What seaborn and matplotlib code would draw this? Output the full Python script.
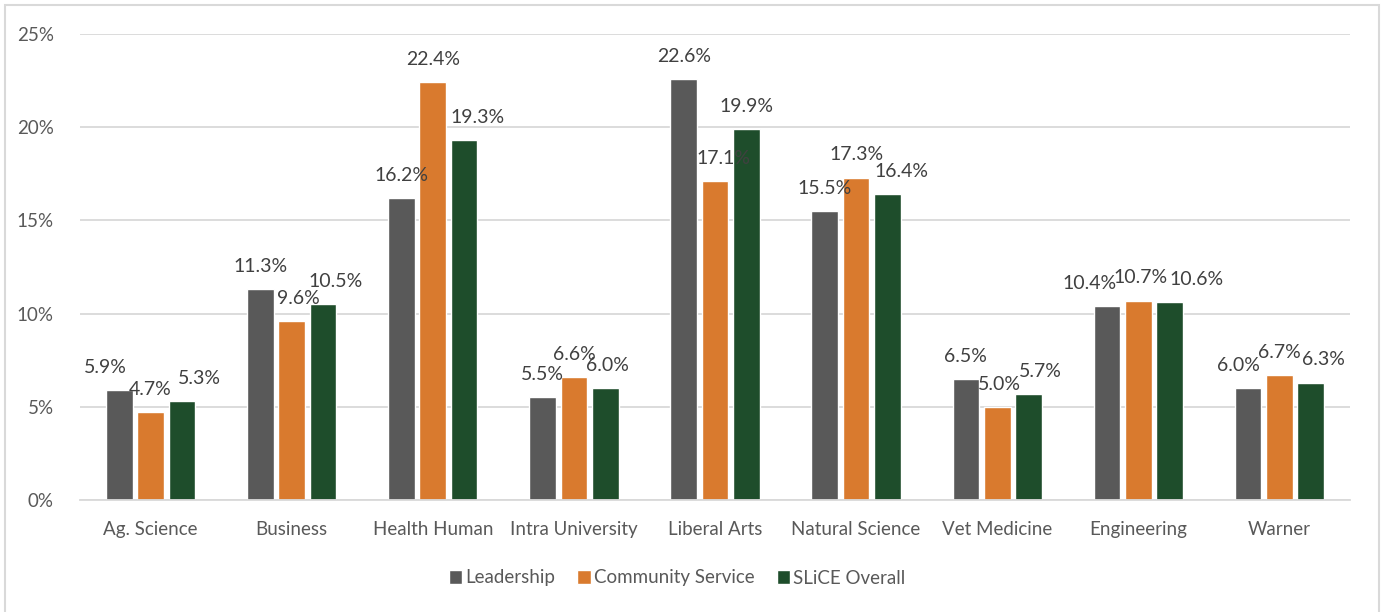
import matplotlib
matplotlib.use("Agg")
import matplotlib.pyplot as plt
from matplotlib.patches import Rectangle
import seaborn as sns
import pandas as pd

colleges = ["Ag. Science", "Business", "Health Human", "Intra University",
            "Liberal Arts", "Natural Science", "Vet Medicine", "Engineering", "Warner"]
series = ["Leadership", "Community Service", "SLiCE Overall"]
leadership = [5.9, 11.3, 16.2, 5.5, 22.6, 15.5, 6.5, 10.4, 6.0]
community = [4.7, 9.6, 22.4, 6.6, 17.1, 17.3, 5.0, 10.7, 6.7]
slice_overall = [5.3, 10.5, 19.3, 6.0, 19.9, 16.4, 5.7, 10.6, 6.3]
y_ticks = [0, 5, 10, 15, 20, 25]
colors = ["#595959", "#D97A2E", "#1E4D2B"]

# horizontal nudges (pixels) that keep neighbouring value labels apart
label_nudge = [
    [-14, 0, 0, 0, 0, 0, 0, -17, -10],
    [0, 7, 0, 0, 8, 0, 2, 2, 0],
    [18, 13, 13, 2, 0, 14, 12, 27, 13],
]

df = pd.DataFrame({
    "College": colleges * 3,
    "Series": [s for s in series for _ in colleges],
    "Value": leadership + community + slice_overall,
})

sns.set_style("white")
plt.rcParams["font.family"] = ["Lato", "DejaVu Sans"]

W, H = 1385, 612
fig = plt.figure(figsize=(W / 100, H / 100), dpi=100)
ax = fig.add_axes([80 / W, 1 - 500 / H, 1270 / W, 466 / H])

sns.barplot(data=df, x="College", y="Value", hue="Series", palette=colors,
            order=colleges, hue_order=series, width=0.666, gap=0.15,
            saturation=1, errorbar=None, ax=ax, legend=True)

ax.set_ylim(0, 25)
ax.set_xlim(-0.5, len(colleges) - 0.5)
ax.set_yticks(y_ticks)
ax.set_yticklabels([f"{t}%" for t in y_ticks])
ax.yaxis.grid(True, color="#D9D9D9", linewidth=1.3)
ax.set_axisbelow(True)
for sp in ["top", "right", "left"]:
    ax.spines[sp].set_visible(False)
ax.spines["bottom"].set_color("#D9D9D9")
ax.spines["bottom"].set_linewidth(1.3)
ax.tick_params(axis="both", length=0, labelsize=13.5, colors="#595959")
ax.tick_params(axis="y", pad=19)
ax.tick_params(axis="x", pad=15)
ax.set_xlabel("")
ax.set_ylabel("")

for s_idx, cont in enumerate(ax.containers):
    for c_idx, bar in enumerate(cont):
        val = bar.get_height()
        cx = bar.get_x() + bar.get_width() / 2
        ax.annotate(f"{val:.1f}%", (cx, val),
                    xytext=(label_nudge[s_idx][c_idx] * 0.72, 22.7 * 0.72),
                    textcoords="offset points", ha="center", va="center",
                    fontsize=14, color="#404040")

leg = ax.get_legend()
handles = leg.legend_handles
leg.remove()
fig.legend(handles, series, loc="center", bbox_to_anchor=(677 / W, 1 - 578 / H),
           ncol=3, frameon=False, fontsize=13.5, labelcolor="#595959",
           handlelength=0.72, handleheight=0.72, handletextpad=0.15,
           columnspacing=1.2)

fig.patches.append(Rectangle((5 / W, -0.05), 1374 / W, 1.05 - 5 / H, transform=fig.transFigure,
                             fill=False, edgecolor="#D9D9D9", linewidth=1.5))

fig.savefig("out.png", dpi=100, facecolor="white")
